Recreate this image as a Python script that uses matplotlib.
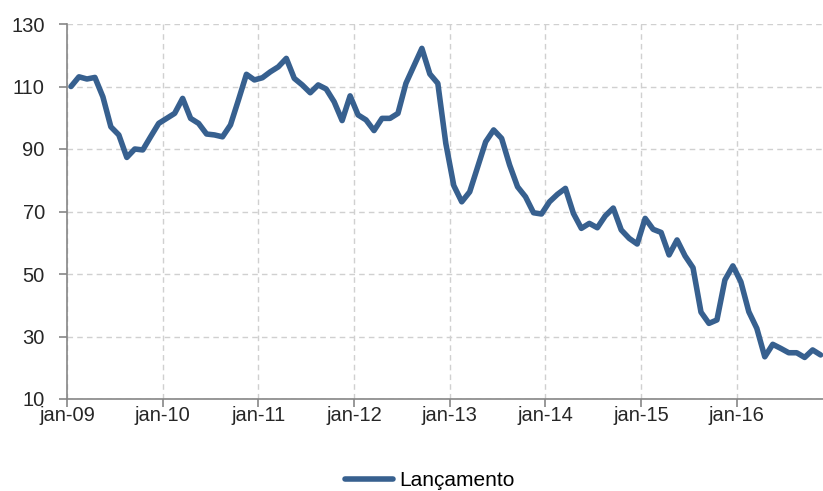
import numpy as np
import matplotlib
matplotlib.use('Agg')
import matplotlib.pyplot as plt

# valores mensais, jan-09 a nov-16
lancamento = [110.0, 113.1, 112.4, 112.9, 106.7, 97.1, 94.5, 87.3, 90.0, 89.7, 94.0, 98.2,
              99.8, 101.4, 106.2, 99.8, 98.2, 94.8, 94.5, 93.9, 97.7, 105.7, 113.9, 112.1,
              112.8, 114.7, 116.3, 119.0, 112.6, 110.5, 108.0, 110.5, 109.2, 105.1, 99.1, 107.0,
              100.9, 99.3, 95.9, 99.8, 99.8, 101.4, 111.0, 116.6, 122.2, 114.0, 111.0, 91.8,
              78.3, 73.1, 76.3, 84.3, 92.3, 96.1, 93.4, 84.9, 77.9, 74.7, 69.6, 69.2,
              73.1, 75.5, 77.4, 69.4, 64.6, 66.2, 64.8, 68.6, 71.1, 64.1, 61.4, 59.6,
              67.8, 64.3, 63.3, 56.1, 60.9, 55.8, 52.0, 37.8, 34.2, 35.3, 48.1, 52.6,
              47.5, 37.9, 32.6, 23.5, 27.5, 26.2, 24.8, 24.8, 23.3, 25.7, 24.1]
rotulos_x = ['jan-09', 'jan-10', 'jan-11', 'jan-12', 'jan-13', 'jan-14', 'jan-15', 'jan-16']
ticks_y = [10, 30, 50, 70, 90, 110, 130]

plt.rcParams['font.family'] = ['Liberation Sans', 'DejaVu Sans']

meses = np.arange(len(lancamento)) + 0.5  # pontos no meio do mes
cinza = '#868686'

fig = plt.figure(figsize=(8.23, 4.91), dpi=100)
ax = fig.add_axes([67 / 823, 1 - 399 / 491, 756 / 823, 375 / 491])

ax.plot(meses, lancamento, color='#37608F', linewidth=4.0, solid_joinstyle='round',
        solid_capstyle='round', label='Lançamento')

ax.set_xlim(0, 94.8)
ax.set_ylim(10, 130)
ax.set_xticks(np.arange(len(rotulos_x)) * 12)
ax.set_xticklabels(rotulos_x)
ax.set_yticks(ticks_y)

ax.grid(True, color='#D0D0D0', linestyle=(0, (4, 3)), linewidth=1.0)
ax.set_axisbelow(True)
for lado in ['top', 'right']:
    ax.spines[lado].set_visible(False)
for lado in ['left', 'bottom']:
    ax.spines[lado].set_color(cinza)
    ax.spines[lado].set_linewidth(1.2)
ax.tick_params(axis='both', colors=cinza, length=6, width=1.2, labelsize=14.5,
               labelcolor='#262626')
ax.tick_params(axis='y', pad=10)
ax.tick_params(axis='x', pad=-1)

fig.legend(loc='center', bbox_to_anchor=(430 / 823, 1 - 481 / 491), frameon=False,
           fontsize=15, handlelength=2.3, handletextpad=0.3)

fig.savefig('out.png', dpi=100)
